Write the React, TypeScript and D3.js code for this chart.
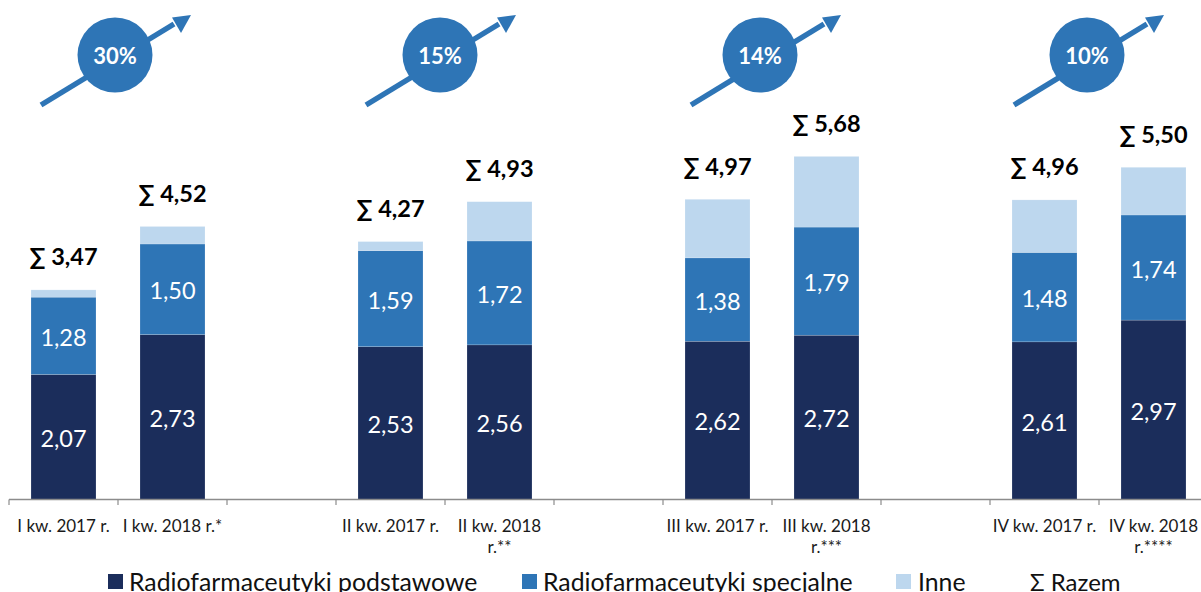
import React from "react";
import * as d3 from "d3";

const slots = ["a1", "a2", "g1", "b1", "b2", "g2", "c1", "c2", "g3", "d1", "d2"];
const barSlots = ["a1", "a2", "b1", "b2", "c1", "c2", "d1", "d2"];
const tickLabels = [
  ["I kw. 2017 r."],
  ["I kw. 2018 r.*"],
  ["II kw. 2017 r."],
  ["II kw. 2018", "r.**"],
  ["III kw. 2017 r."],
  ["III kw. 2018", "r.***"],
  ["IV kw. 2017 r."],
  ["IV kw. 2018", "r.****"],
];
const podstawowe = [2.07, 2.73, 2.53, 2.56, 2.62, 2.72, 2.61, 2.97];
const specjalne = [1.28, 1.5, 1.59, 1.72, 1.38, 1.79, 1.48, 1.74];
const razem = [3.47, 4.52, 4.27, 4.93, 4.97, 5.68, 4.96, 5.5];
const growth = ["30%", "15%", "14%", "10%"];
const growthCenterX = [115, 440, 760, 1087];
const growthArrowStart = [41, 366, 691, 1014];
const legendItems = [
  { label: "Radiofarmaceutyki podstawowe", color: "#1B2D5B", x: 108, textX: 129 },
  { label: "Radiofarmaceutyki specjalne", color: "#2E75B6", x: 522, textX: 543 },
  { label: "Inne", color: "#BDD7EE", x: 896, textX: 918 },
];
const COLORS = ["#1B2D5B", "#2E75B6", "#BDD7EE"];
const FONT = "Lato, 'Open Sans', sans-serif";
const fmt = (v: number) => v.toFixed(2).replace(".", ",");

export default function App() {
  const x = d3.scaleBand().domain(slots).range([9, 1208]);
  const y = d3.scaleLinear().domain([0, 5.68]).range([499.5, 156.4]);
  const bw = 65;
  const rows = barSlots.map((s, i) => ({
    slot: s,
    podstawowe: podstawowe[i],
    specjalne: specjalne[i],
    inne: razem[i] - podstawowe[i] - specjalne[i],
  }));
  const series = d3.stack<any>().keys(["podstawowe", "specjalne", "inne"])(rows);
  const tickXs = d3.range(slots.length + 1).map((i) => 9 + i * x.bandwidth());
  return (
    <svg
      width={1201}
      height={592}
      style={{ position: "absolute", left: 0, top: 0, background: "#fff" }}
      fontFamily={FONT}
    >
      {growth.map((g, i) => {
        const cx = growthCenterX[i];
        const sx = growthArrowStart[i];
        return (
          <g key={g}>
            <line x1={sx} y1={105} x2={sx + 133} y2={24} stroke="#2E75B6" strokeWidth={5.5} />
            <path
              d={`M${sx + 150},15 L${sx + 131},17.5 L${sx + 140},33 Z`}
              fill="#2E75B6"
            />
            <circle cx={cx} cy={55} r={37.5} fill="#2E75B6" />
            <text x={cx} y={64} textAnchor="middle" fontSize={22} fontWeight={700} fill="#fff">
              {g}
            </text>
          </g>
        );
      })}
      {series.map((s, k) =>
        s.map((d, i) => (
          <rect
            key={k + "-" + i}
            x={x(rows[i].slot)! + (x.bandwidth() - bw) / 2}
            width={bw}
            y={y(d[1])}
            height={y(d[0]) - y(d[1])}
            fill={COLORS[k]}
            stroke="#fff"
            strokeOpacity={0.35}
            strokeWidth={0.5}
          />
        ))
      )}
      {series.slice(0, 2).map((s, k) =>
        s.map((d, i) => (
          <text
            key={k + "-" + i}
            x={x(rows[i].slot)! + x.bandwidth() / 2}
            y={(y(d[0]) + y(d[1])) / 2 + 10}
            textAnchor="middle"
            fontSize={23.5}
            fill="#fff"
          >
            {fmt(d[1] - d[0])}
          </text>
        ))
      )}
      {rows.map((r, i) => (
        <text
          key={r.slot}
          x={x(r.slot)! + x.bandwidth() / 2}
          y={y(razem[i]) - 24.5}
          textAnchor="middle"
          fontSize={23.5}
          fontWeight={700}
          fill="#000"
        >
          ∑ {fmt(razem[i])}
        </text>
      ))}
      <line x1={9} x2={1201} y1={499.5} y2={499.5} stroke="#8C8C8C" strokeWidth={1.5} />
      {tickXs.map((t) => (
        <line key={t} x1={t} x2={t} y1={499.5} y2={505} stroke="#8C8C8C" strokeWidth={1.2} />
      ))}
      {barSlots.map((s, i) => (
        <text key={s} textAnchor="middle" fontSize={17} fill="#1a1a1a">
          {tickLabels[i].map((ln, j) => (
            <tspan key={j} x={x(s)! + x.bandwidth() / 2} y={532 + j * 21}>
              {ln}
            </tspan>
          ))}
        </text>
      ))}
      {legendItems.map((l) => (
        <g key={l.label}>
          <rect x={l.x} y={574} width={15} height={15} fill={l.color} />
          <text x={l.textX} y={591} fontSize={24.8} fill="#111">
            {l.label}
          </text>
        </g>
      ))}
      <text x={1030} y={591} fontSize={24} fill="#111">
        Σ Razem
      </text>
    </svg>
  );
}
